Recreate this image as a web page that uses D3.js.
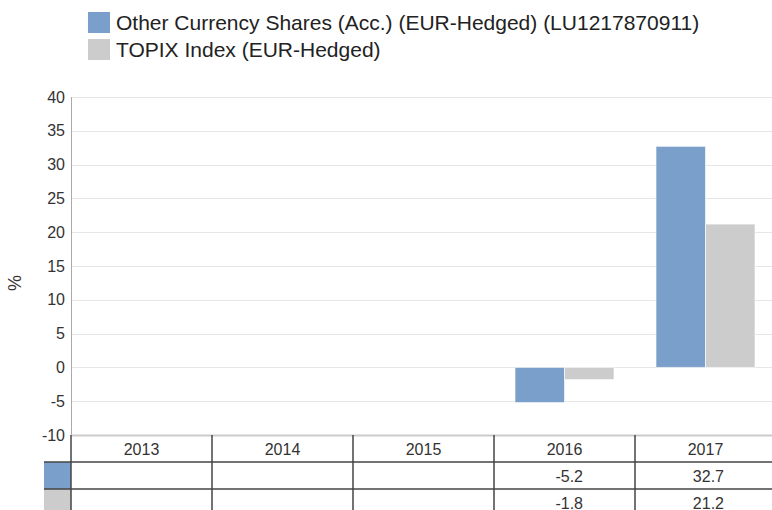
<!DOCTYPE html>
<html>
<head>
<meta charset="utf-8">
<script src="https://cdn.jsdelivr.net/npm/d3@7"></script>
<style>
  body { margin: 0; background: #fff; }
  svg { display: block; font-family: "Liberation Sans", Arial, sans-serif; }
</style>
</head>
<body>
<svg id="chart"></svg>
<script>
const years = ["2013", "2014", "2015", "2016", "2017"];
const seriesNames = [
  "Other Currency Shares (Acc.) (EUR-Hedged) (LU1217870911)",
  "TOPIX Index (EUR-Hedged)"
];
const fundValues = [null, null, null, -5.2, 32.7];
const indexValues = [null, null, null, -1.8, 21.2];
const yTicks = [-10, -5, 0, 5, 10, 15, 20, 25, 30, 35, 40];

const width = 772;
const height = 510;
const colors = ["#7b9fcb", "#cccccc"];
const plot = { left: 71, right: 776, top: 97, bottom: 435 };
const rowH = 27;
const hyphen = (s) => s.replace("\u2212", "-");

const svg = d3.select("#chart").attr("width", width).attr("height", height);

const series = [fundValues, indexValues];

const x = d3.scaleBand().domain(years).range([plot.left, plot.right]);
const xs = d3.scaleBand()
  .domain(d3.range(series.length))
  .range([21, x.bandwidth() - 21]);
const y = d3.scaleLinear().domain([-10, 40]).range([plot.bottom, plot.top]);

// grid
svg.append("g")
  .selectAll("line")
  .data(yTicks.filter((d) => d !== -10))
  .join("line")
  .attr("x1", plot.left)
  .attr("x2", width)
  .attr("y1", (d) => Math.round(y(d)) + 0.5)
  .attr("y2", (d) => Math.round(y(d)) + 0.5)
  .attr("stroke", "#e6e6e6");

// y axis
const yAxis = svg.append("g")
  .attr("transform", `translate(${plot.left},0)`)
  .call(d3.axisLeft(y).tickValues(yTicks).tickSize(0).tickPadding(6)
    .tickFormat((d) => hyphen(d3.format("d")(d))));
yAxis.select(".domain").remove();
yAxis.selectAll("text")
  .attr("font-size", "16px")
  .attr("fill", "#333")
  .attr("font-family", "Liberation Sans, Arial, sans-serif");

svg.append("text")
  .attr("transform", `translate(21,${(plot.top + plot.bottom) / 2 + 17}) rotate(-90)`)
  .attr("text-anchor", "middle")
  .attr("font-size", "18px")
  .attr("fill", "#333")
  .text("%");

// bars
series.forEach((vals, si) => {
  svg.append("g")
    .selectAll("rect")
    .data(years.map((yr, i) => ({ yr, v: vals[i] })).filter((d) => d.v != null))
    .join("rect")
    .attr("x", (d) => x(d.yr) + xs(si))
    .attr("width", xs.bandwidth())
    .attr("y", (d) => y(Math.max(0, d.v)))
    .attr("height", (d) => Math.abs(y(d.v) - y(0)))
    .attr("fill", colors[si])
    .attr("stroke", "#fff")
    .attr("stroke-opacity", 0.6)
    .attr("stroke-width", 1);
});

// left axis line
svg.append("line")
  .attr("x1", plot.left + 0.5).attr("x2", plot.left + 0.5)
  .attr("y1", plot.top).attr("y2", plot.bottom)
  .attr("stroke", "#aaa");

// data table
const table = svg.append("g");
table.append("line")
  .attr("x1", plot.left).attr("x2", width)
  .attr("y1", plot.bottom + 0.5).attr("y2", plot.bottom + 0.5)
  .attr("stroke", "#ccc").attr("stroke-width", 2);

series.forEach((vals, si) => {
  table.append("rect")
    .attr("x", 44)
    .attr("y", plot.bottom + rowH * (si + 1))
    .attr("width", plot.left - 44)
    .attr("height", rowH)
    .attr("fill", colors[si]);
});

[1, 2].forEach((r) => {
  table.append("line")
    .attr("x1", 44).attr("x2", width)
    .attr("y1", plot.bottom + rowH * r)
    .attr("y2", plot.bottom + rowH * r)
    .attr("stroke", "#444").attr("stroke-width", 1.5);
});

table.selectAll(".vline")
  .data(years)
  .join("line")
  .attr("x1", (d) => x(d)).attr("x2", (d) => x(d))
  .attr("y1", plot.bottom).attr("y2", height)
  .attr("stroke", "#444").attr("stroke-width", 1.5);

table.selectAll(".yr")
  .data(years)
  .join("text")
  .attr("x", (d) => x(d) + x.bandwidth() / 2)
  .attr("y", plot.bottom + 20)
  .attr("text-anchor", "middle")
  .attr("font-size", "16px")
  .attr("fill", "#333")
  .text((d) => d);

series.forEach((vals, si) => {
  table.append("g")
    .selectAll("text")
    .data(years.map((yr, i) => ({ yr, v: vals[i] })).filter((d) => d.v != null))
    .join("text")
    .attr("x", (d) => x(d.yr) + x.bandwidth() - 52)
    .attr("y", plot.bottom + rowH * (si + 1) + 20)
    .attr("text-anchor", "end")
    .attr("font-size", "16px")
    .attr("fill", "#333")
    .text((d) => hyphen(d3.format(".1f")(d.v)));
});

// legend
const legend = svg.append("g");
seriesNames.forEach((name, i) => {
  legend.append("rect")
    .attr("x", 88)
    .attr("y", 12 + i * 27)
    .attr("width", 22)
    .attr("height", 21)
    .attr("fill", colors[i]);
  legend.append("text")
    .attr("x", 116)
    .attr("y", 30 + i * 27)
    .attr("font-size", "21px")
    .attr("fill", "#222")
    .text(name);
});
</script>
</body>
</html>
